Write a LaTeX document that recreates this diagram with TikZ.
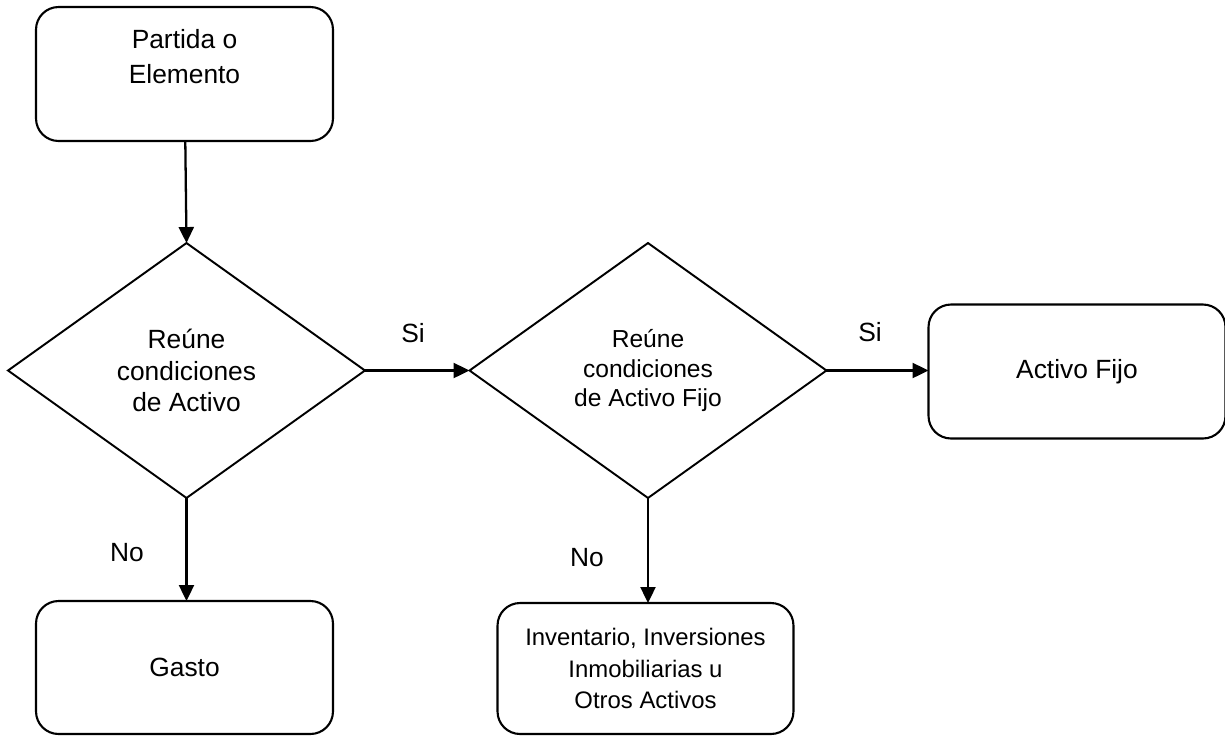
\documentclass[tikz,border=0pt]{standalone}
\usepackage{fontspec}
\setmainfont{Liberation Sans}
\usepackage{tikz}
\usetikzlibrary{arrows.meta,
	shapes.geometric}

\tikzset{
	caja/.style={draw, rounded corners=0.45cm, line width=1.2pt, align=center,
		minimum width=5.94cm, minimum height=2.68cm, inner sep=0pt, outer sep=0pt,
		font=\fontsize{15pt}{20pt}\selectfont},
	rombo/.style={draw, diamond, aspect=1.4, line width=1.1pt, align=center,
		minimum width=7.14cm, minimum height=5.1cm, inner sep=0pt, outer sep=0pt,
		font=\fontsize{15pt}{18pt}\selectfont},
	etiq/.style={font=\fontsize{15pt}{18pt}\selectfont},
	flecha/.style={-{Triangle[length=0.32cm,width=0.3cm]}, line width=1.3pt}
}

\begin{document}
\begin{tikzpicture}[x=0.02cm, y=-0.02cm]
        \useasboundingbox (0,0) rectangle (1225,735);

        \node (partida) [caja] at(184.5,74) {Partida o\\Elemento\\~};

        %decisiones
        \node (activo) [rombo] at(186.5,370.5) {Reúne\\condiciones\\de Activo};
        \node (fijo) [rombo, font=\fontsize{14pt}{17pt}\selectfont] at(648,370.5) {Reúne\\condiciones\\de Activo Fijo};

        \node (activofijo) [caja] at(1077,371.5) {Activo Fijo};
        \node (gasto) [caja, minimum height=2.66cm] at(184.5,667.5) {Gasto};
        \node (otros) [caja, minimum width=5.92cm, minimum height=2.62cm,
            font=\fontsize{13.6pt}{18pt}\selectfont] at(645.5,668.5)
            {Inventario, Inversiones\\Inmobiliarias u\\Otros Activos};

        \draw [flecha] (partida) -- (activo.north);
        \draw [flecha] (activo.east) -- (fijo.west);
        \draw [flecha] (fijo.east) -- (fijo.east -| activofijo.west);
        \draw [flecha] (activo.south) -- (gasto.north -| activo.south);
        \draw [flecha] (fijo.south) -- (otros.north -| fijo.south);

        \node (si1) [etiq] at(413,333) {Si};
        \node (si2) [etiq] at(870,332) {Si};
        \node (no1) [etiq] at(127,553) {No};
        \node (no2) [etiq] at(587,558) {No};
    \end{tikzpicture}
\end{document}
